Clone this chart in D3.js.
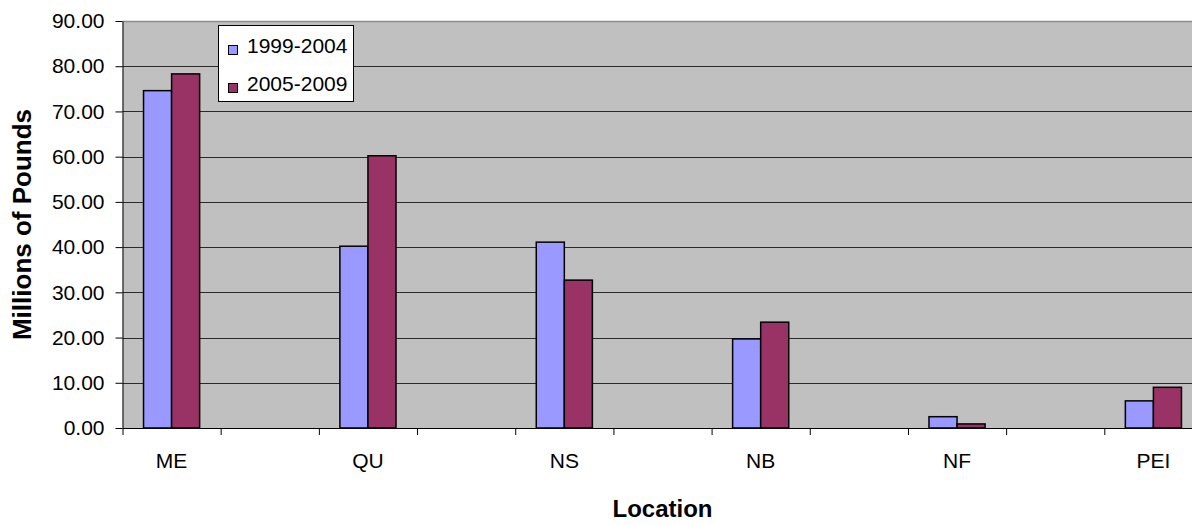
<!DOCTYPE html>
<html>
<head>
<meta charset="utf-8">
<script src="https://cdn.jsdelivr.net/npm/d3@7"></script>
<style>
  html, body { margin: 0; padding: 0; background: #fff; }
  svg { display: block; }
  text { font-family: "Liberation Sans", Arial, sans-serif; fill: #000; }
</style>
</head>
<body>
<svg id="chart" width="1192" height="525"></svg>
<script>
// ---- data ----
const categories = ["ME", "", "QU", "", "NS", "", "NB", "", "NF", "", "PEI"];
const seriesNames = ["1999-2004", "2005-2009"];
const values1999 = [74.6, null, 40.2, null, 41.1, null, 19.7, null, 2.5, null, 6.0];
const values2005 = [78.3, null, 60.2, null, 32.7, null, 23.4, null, 0.9, null, 9.0];
const yTicks = [0, 10, 20, 30, 40, 50, 60, 70, 80, 90];
const colors = ["#9999FF", "#993366"];

// ---- layout ----
const svg = d3.select("#chart");
const plot = { left: 122.5, right: 1202.5, top: 21, bottom: 428 };

const x = d3.scaleBand()
  .domain(d3.range(categories.length))
  .range([plot.left, plot.right])
  .paddingInner(0).paddingOuter(0);
const xEdge = d3.scaleLinear().domain([0, categories.length]).range([plot.left, plot.right]);
const y = d3.scaleLinear().domain([0, 90]).range([plot.bottom, plot.top]);

const bw = x.bandwidth();
const barW = bw / 3.5;           // Excel gap width 150%
const xs = d3.scaleBand().domain([0, 1]).range([(bw - 2 * barW) / 2, (bw + 2 * barW) / 2]);

// plot background
svg.append("rect")
  .attr("x", plot.left).attr("y", plot.top)
  .attr("width", plot.right - plot.left).attr("height", plot.bottom - plot.top)
  .attr("fill", "#C0C0C0");

// gridlines
svg.append("g").selectAll("line")
  .data(yTicks.filter(d => d > 0))
  .join("line")
  .attr("x1", plot.left).attr("x2", plot.right)
  .attr("y1", d => Math.round(y(d)) + 0.5).attr("y2", d => Math.round(y(d)) + 0.5)
  .attr("stroke", d => d === 90 ? "#8c8c8c" : "#2a2a2a")
  .attr("stroke-width", d => d === 90 ? 1.6 : 1);

// bars
const seriesData = [values1999, values2005];
seriesData.forEach((vals, si) => {
  svg.append("g").selectAll("rect")
    .data(vals.map((v, i) => ({ i, v })).filter(d => d.v !== null))
    .join("rect")
    .attr("x", d => x(d.i) + xs(si))
    .attr("y", d => y(d.v))
    .attr("width", xs.bandwidth())
    .attr("height", d => y(0) - y(d.v))
    .attr("fill", colors[si])
    .attr("stroke", "#000")
    .attr("stroke-width", 1.5);
});

// y axis
const yAxis = svg.append("g")
  .attr("transform", `translate(${plot.left},0)`)
  .call(d3.axisLeft(y).tickValues(yTicks).tickFormat(d => d.toFixed(2))
    .tickSizeInner(7).tickSizeOuter(0).tickPadding(11));
yAxis.select(".domain").attr("stroke", "#000");
yAxis.selectAll("text").style("font-size", "21px").attr("fill", "#000");

// x axis boundary ticks
const xTicks = svg.append("g")
  .attr("transform", `translate(0,${plot.bottom})`)
  .call(d3.axisBottom(xEdge).tickValues(d3.range(categories.length + 1))
    .tickFormat("").tickSizeInner(7).tickSizeOuter(0));
xTicks.select(".domain").attr("stroke", "#000");

// x category labels
const xLabels = svg.append("g")
  .attr("transform", `translate(0,${plot.bottom})`)
  .call(d3.axisBottom(x).tickFormat(i => categories[i]).tickSize(0).tickPadding(25));
xLabels.select(".domain").remove();
xLabels.selectAll("text").style("font-size", "21px").attr("fill", "#000");

// axis titles
svg.append("text")
  .attr("transform", `translate(31,${(plot.top + plot.bottom) / 2}) rotate(-90)`)
  .attr("text-anchor", "middle")
  .style("font-size", "26px").style("font-weight", "bold")
  .text("Millions of Pounds");

svg.append("text")
  .attr("x", (plot.left + plot.right) / 2).attr("y", 517)
  .attr("text-anchor", "middle")
  .style("font-size", "24px").style("font-weight", "bold")
  .text("Location");

// legend
const lg = svg.append("g");
lg.append("rect")
  .attr("x", 218.5).attr("y", 25.5).attr("width", 135).attr("height", 76)
  .attr("fill", "#fff").attr("stroke", "#000").attr("stroke-width", 1);
const items = lg.selectAll("g.item").data(seriesNames).join("g")
  .attr("class", "item")
  .attr("transform", (d, i) => `translate(0,${i * 38})`);
items.append("rect")
  .attr("x", 228.5).attr("y", 45.5).attr("width", 9).attr("height", 9)
  .attr("fill", (d, i) => colors[i]).attr("stroke", "#000").attr("stroke-width", 1);
items.append("text")
  .attr("x", 247).attr("y", 53)
  .style("font-size", "21px")
  .text(d => d);
</script>
</body>
</html>
